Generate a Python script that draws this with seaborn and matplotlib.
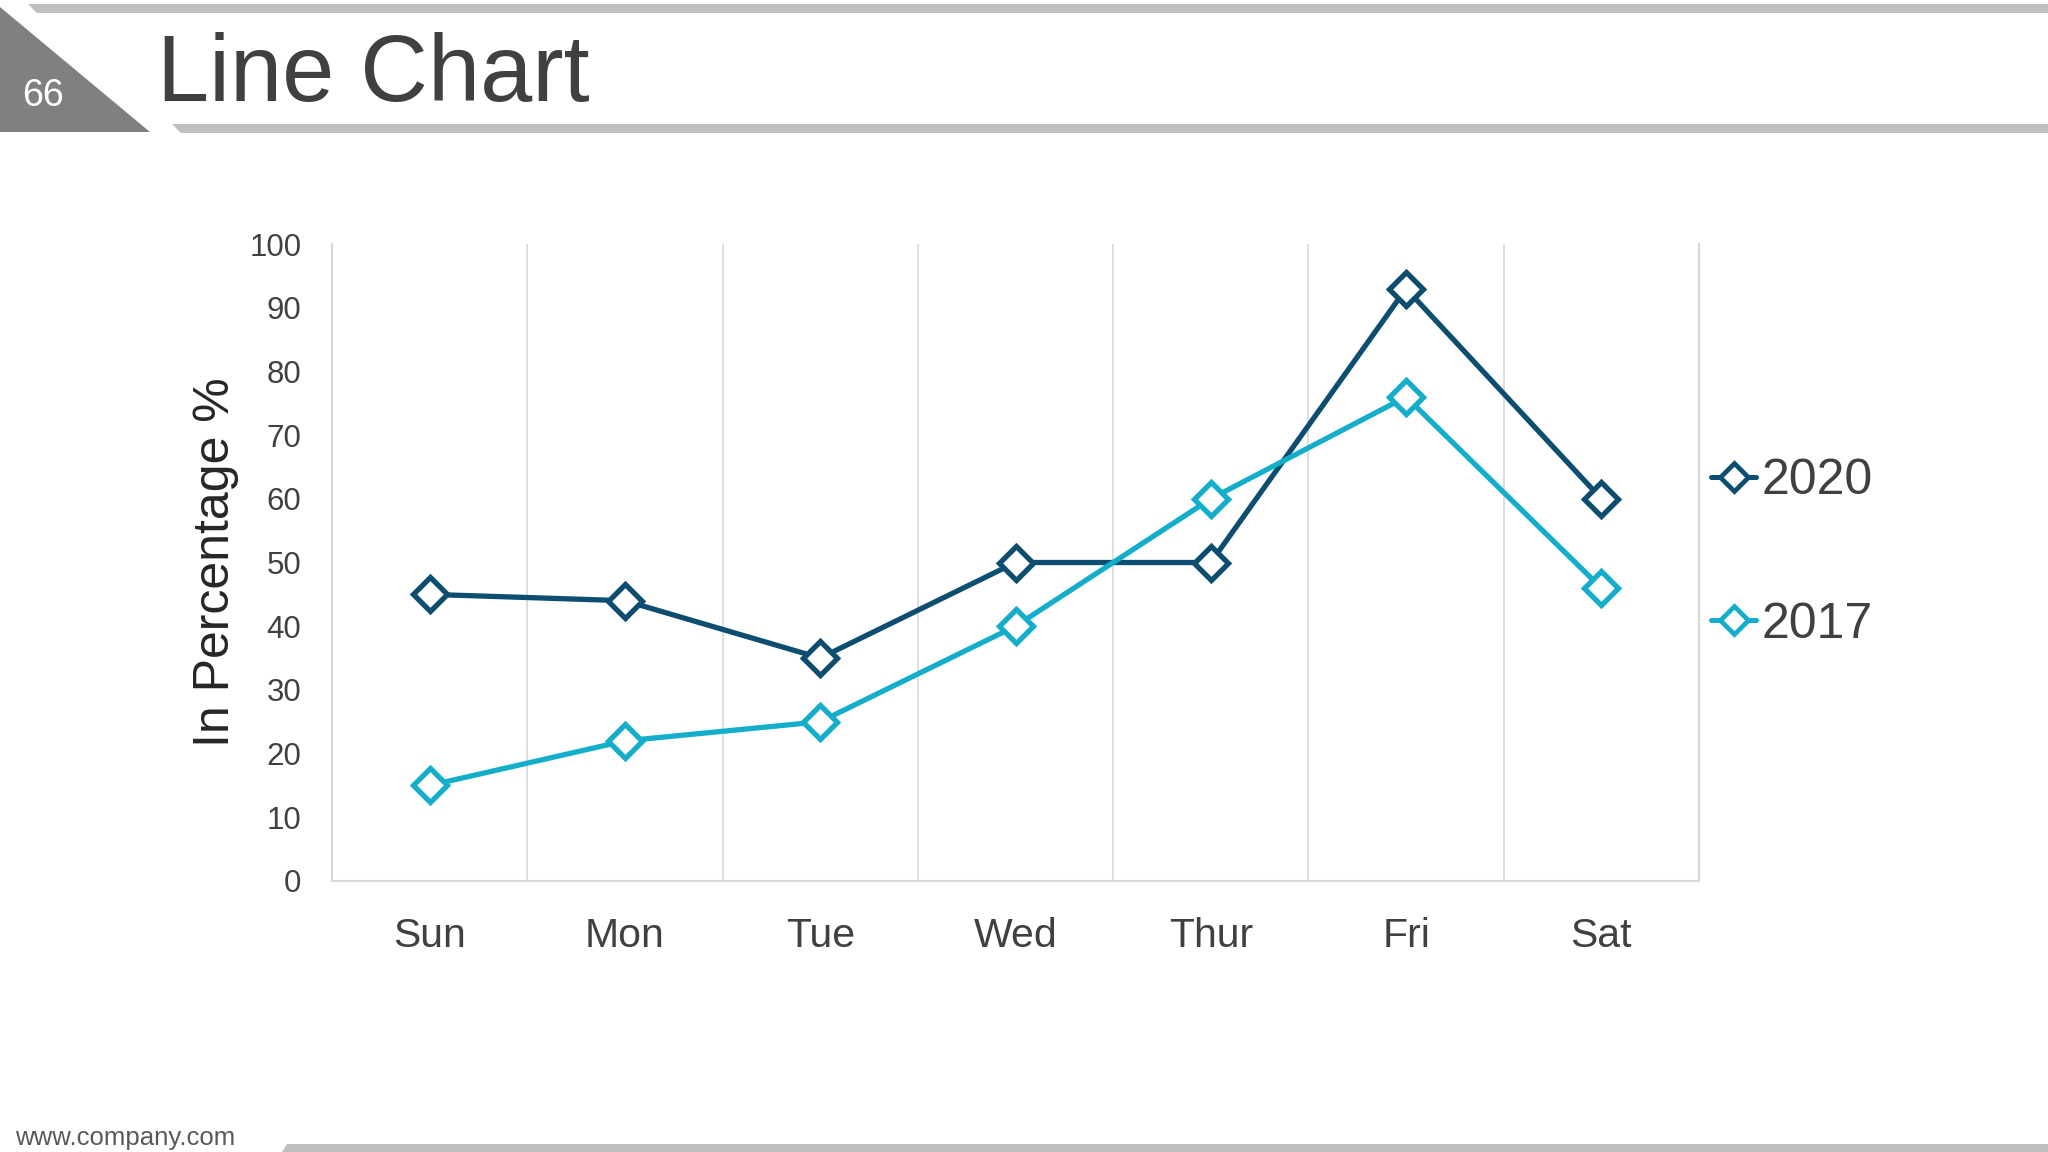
import numpy as np
import pandas as pd
import matplotlib
matplotlib.use("Agg")
import matplotlib.pyplot as plt
from matplotlib.patches import Polygon
from matplotlib.lines import Line2D
import seaborn as sns

# ---- data ----
days = ["Sun", "Mon", "Tue", "Wed", "Thur", "Fri", "Sat"]
values_2020 = [45, 44, 35, 50, 50, 93, 60]
values_2017 = [15, 22, 25, 40, 60, 76, 46]
series_names = ["2020", "2017"]
y_ticks = [0, 10, 20, 30, 40, 50, 60, 70, 80, 90, 100]
title_text = "Line Chart"
page_number = "66"
footer_text = "www.company.com"
y_label = "In Percentage %"

colors = {"2020": "#0D4D6F", "2017": "#14AECB"}

df = pd.concat([
    pd.DataFrame({"day": days, "value": values_2020, "series": "2020"}),
    pd.DataFrame({"day": days, "value": values_2017, "series": "2017"}),
], ignore_index=True)

sns.set_theme(style="white")
plt.rcParams["font.family"] = ["Liberation Sans", "DejaVu Sans"]

W, H = 2048, 1152
fig = plt.figure(figsize=(W / 100, H / 100), dpi=100)
fig.patch.set_facecolor("white")

# ---- decoration layer (pixel coords) ----
deco = fig.add_axes([0, 0, 1, 1], zorder=0)
deco.set_xlim(0, W)
deco.set_ylim(H, 0)
deco.axis("off")
bar_gray = "#BFBFBF"
deco.add_patch(Polygon([(28, 4), (W, 4), (W, 12.7), (37, 12.7)], closed=True, fc=bar_gray, ec="none"))
deco.add_patch(Polygon([(0, 7), (150, 132), (0, 132)], closed=True, fc="#808080", ec="none"))
deco.add_patch(Polygon([(172, 124), (W, 124), (W, 133), (181, 133)], closed=True, fc=bar_gray, ec="none"))
deco.add_patch(Polygon([(287, 1144), (W, 1144), (W, 1152), (282, 1152)], closed=True, fc=bar_gray, ec="none"))
deco.text(43, 96, page_number, color="white", fontsize=27, ha="center", va="center")
deco.text(157, 101, title_text, color="#404040", fontsize=67.5, ha="left", va="baseline")
deco.text(15, 1138, footer_text, color="#595959", fontsize=18.5, ha="left", va="center")

# ---- chart ----
ax = fig.add_axes([332 / W, 1 - 881 / H, (1699 - 332) / W, (881 - 244) / H], zorder=1)
ax.patch.set_alpha(0)
sns.lineplot(
    data=df, x="day", y="value", hue="series", hue_order=series_names,
    palette=colors, style="series", style_order=series_names,
    markers={"2020": "D", "2017": "D"}, dashes=False, sort=False,
    linewidth=3.8, markersize=17, markeredgewidth=3.8,
    markerfacecolor="white", ax=ax, legend=False,
)
for ln in ax.lines:
    ln.set_markerfacecolor("white")
    ln.set_markeredgecolor(ln.get_color())
    ln.set_solid_joinstyle("round")
    ln.set_clip_on(False)

ax.set_xlim(-0.5, len(days) - 0.5)
ax.set_ylim(0, 100)
ax.set_yticks(y_ticks)
ax.set_xticks(range(len(days)))
ax.set_xticklabels(days)
ax.set_xticks(np.arange(0.5, len(days) - 0.5, 1), minor=True)
ax.grid(False)
ax.grid(True, which="minor", axis="x", color="#D9D9D9", linewidth=1.2)
ax.tick_params(axis="x", which="both", length=0, labelsize=29.5, labelcolor="#404040", pad=26)
ax.tick_params(axis="y", length=0, labelsize=22.5, labelcolor="#404040", pad=22)
for s in ["left", "bottom", "right"]:
    ax.spines[s].set_visible(True)
    ax.spines[s].set_color("#D9D9D9")
    ax.spines[s].set_linewidth(1.5)
ax.spines["top"].set_visible(False)
ax.set_xlabel("")
ax.set_ylabel(y_label, fontsize=36, color="#262626")
ax.yaxis.set_label_coords(-0.068, 0.5)

handles = [
    Line2D([], [], color=colors[n], marker="D", markersize=14, markeredgewidth=3.4,
           markerfacecolor="white", linewidth=3.6, solid_capstyle="round")
    for n in series_names
]
leg = fig.legend(
    handles, series_names, loc="center left",
    bbox_to_anchor=(1711 / W, 1 - 553 / H), bbox_transform=fig.transFigure,
    frameon=False, fontsize=36, labelspacing=1.95, handlelength=0.9,
    handletextpad=0.1, borderpad=0, borderaxespad=0,
)
for t in leg.get_texts():
    t.set_color("#404040")

fig.savefig("out.png", dpi=100, facecolor="white")
